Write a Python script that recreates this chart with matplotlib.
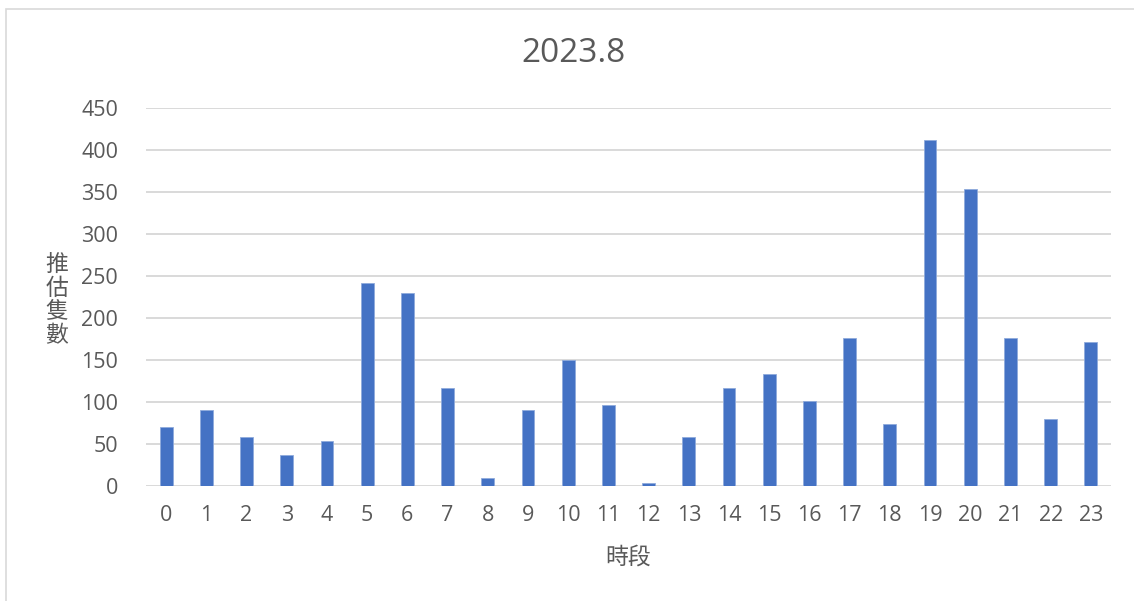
import matplotlib
matplotlib.use('Agg')
import matplotlib.pyplot as plt
from matplotlib.patches import Rectangle

hours = [str(h) for h in range(24)]
counts = [70, 91, 58, 37, 53, 242, 230, 117, 10, 90, 150, 96,
          4, 58, 117, 133, 101, 176, 74, 412, 353, 176, 80, 171]
y_ticks = [0, 50, 100, 150, 200, 250, 300, 350, 400, 450]

W, H = 1134, 601
grey = '#595959'
fig = plt.figure(figsize=(W / 100, H / 100), dpi=100)
fig.patch.set_facecolor('white')

# outer chart frame (only top/left edges visible in the crop)
fig.patches.append(Rectangle((6 / W, -0.05), 1.2, 1 - 9 / H + 0.05, transform=fig.transFigure,
                             fill=False, edgecolor='#d9d9d9', linewidth=1.2))

left, right, top, bottom = 146, 1111, 108, 486
ax = fig.add_axes([left / W, 1 - bottom / H, (right - left) / W, (bottom - top) / H])
x = list(range(len(hours)))
ax.bar(x, counts, width=0.32, color='#4472C4', edgecolor='#8faadc', linewidth=0.6, zorder=3)
ax.set_xlim(-0.5, len(hours) - 0.5)
ax.set_ylim(0, 450)
ax.set_yticks(y_ticks)
ax.set_xticks(x)
ax.set_xticklabels(hours)
ax.grid(axis='y', color='#d9d9d9', linewidth=1.4, zorder=0)
for s in ax.spines.values():
    s.set_visible(False)
ax.tick_params(length=0, labelsize=15.5, labelcolor=grey)
ax.tick_params(axis='x', pad=14)
ax.tick_params(axis='y', pad=20)
for lab in ax.get_xticklabels() + ax.get_yticklabels():
    lab.set_family('Open Sans')

fig.text(573 / W, 1 - 53 / H, '2023.8', ha='center', va='center', fontsize=24,
         color=grey, family='Open Sans')
fig.text(628 / W, 1 - 557 / H, '時段', ha='center', va='center', fontsize=16.5,
         color=grey, family=['Noto Sans CJK TC', 'DejaVu Sans'])
fig.text(57 / W, 1 - 300 / H, '推\n估\n隻\n數', ha='center', va='center', fontsize=16.5,
         color=grey, linespacing=1.05, family=['Noto Sans CJK TC', 'DejaVu Sans'])

fig.savefig('out.png', dpi=100)
